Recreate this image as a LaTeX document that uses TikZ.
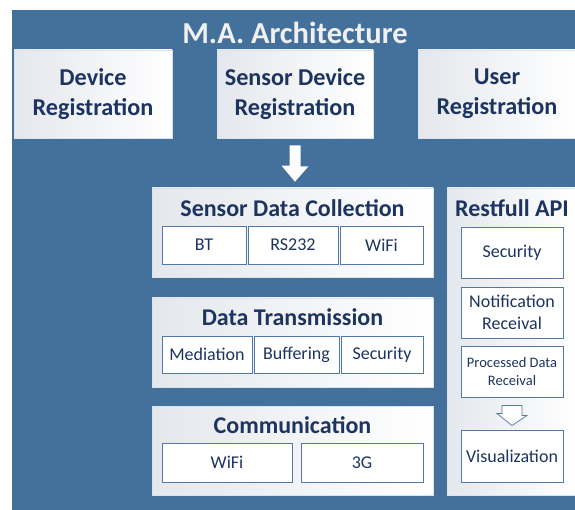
\documentclass[tikz,border=0pt]{standalone}
\usepackage{fontspec}
\setmainfont{Carlito}
\usetikzlibrary{positioning}
\definecolor{ArchBlue}{RGB}{67,113,156}
\definecolor{TextNavy}{RGB}{28,52,95}
\definecolor{ItemEdge}{RGB}{84,120,165}
\definecolor{BoxGrey}{RGB}{228,231,236}

\begin{document}
\begin{tikzpicture}[x=1pt,y=-1pt,
  every node/.style={align=center, text=TextNavy, inner sep=0pt},
  regbox/.style={draw=white!80!ArchBlue, line width=0.6pt, left color=BoxGrey, right color=white, font=\fontsize{24.2}{30}\selectfont\bfseries},
  groupbox/.style={draw=white!80!ArchBlue, line width=0.6pt, left color=BoxGrey, right color=white},
  grouptitle/.style={font=\fontsize{24}{28}\selectfont\bfseries},
  itembox/.style={draw=ItemEdge, line width=0.9pt, fill=white, font=\fontsize{18}{22}\selectfont}]
  \useasboundingbox (0,0) rectangle (575,510);
  \fill[ArchBlue] (12,10) rectangle (575,510);
  \node[font=\fontsize{30.5}{32}\selectfont\bfseries, text=white!94!black] (title) at (295,33) {M.A. Architecture};

  % registration row
  \node[regbox, minimum width=158pt, minimum height=88pt] (devreg) at (93,94) {Device\\Registration};
  \node[regbox, minimum width=156pt, minimum height=88pt] (sensreg) at (295,94) {Sensor Device\\Registration};
  \node[regbox, minimum width=158pt, minimum height=88pt] (userreg) at (497,94) {User\\Registration};

  % left column
  \node[groupbox, minimum width=281pt, minimum height=89pt] (collect) at (292.5,232.5) {};
  \node[grouptitle] (collecttitle) at (292.5,208) {Sensor Data Collection};
  \node[itembox, minimum width=84pt, minimum height=38pt] (bt) at (204,245) {BT};
  \node[itembox, minimum width=90pt, minimum height=38pt] (rs) at (293,245) {RS232};
  \node[itembox, minimum width=83pt, minimum height=38pt] (wifiA) at (381.5,245) {WiFi};

  \node[groupbox, minimum width=281pt, minimum height=89pt] (trans) at (292.5,342.5) {};
  \node[grouptitle] (transtitle) at (292.5,317) {Data Transmission};
  \node[itembox, minimum width=90pt, minimum height=37pt] (mediation) at (207,354.5) {Mediation};
  \node[itembox, minimum width=85pt, minimum height=37pt] (buffering) at (296.5,354.5) {Buffering};
  \node[itembox, minimum width=82pt, minimum height=37pt] (securityA) at (382,354.5) {Security};

  \node[groupbox, minimum width=281pt, minimum height=89pt] (comm) at (292.5,450.5) {};
  \node[grouptitle] (commtitle) at (292.5,425) {Communication};
  \node[itembox, minimum width=130pt, minimum height=39pt] (wifiB) at (227,462.5) {WiFi};
  \node[itembox, minimum width=122pt, minimum height=39pt] (threeg) at (362,462.5) {3G};

  % right column
  \node[groupbox, minimum width=130pt, minimum height=307pt] (rest) at (512,341.5) {};
  \node[grouptitle] (resttitle) at (512,208) {Restfull API};
  \node[itembox, minimum width=102pt, minimum height=51pt] (securityB) at (512,252.5) {Security};
  \node[itembox, minimum width=102pt, minimum height=51pt] (notify) at (512,312.5) {Notification\\Receival};
  \node[itembox, minimum width=102pt, minimum height=51pt, font=\fontsize{14.5}{18}\selectfont] (processed) at (512,371.5) {Processed Data\\Receival};
  \node[itembox, minimum width=102pt, minimum height=52pt] (visual) at (512,456) {Visualization};

  % arrows
  \fill[white] ([xshift=-5.5pt,yshift=-7pt]sensreg.south) -- ++(11,0) -- ++(0,21) -- ++(8,0)
    -- ([yshift=6pt]collect.north -| sensreg.south) -- ++(-13.5,-16) -- ++(8,0) -- cycle;
  \draw[ItemEdge, line width=0.7pt, fill=white] ([xshift=-10pt,yshift=-8pt]processed.south) -- ++(20,0) -- ++(0,10)
    -- ++(5,0) -- ([yshift=4pt]visual.north) -- ++(-15,-12) -- ++(5,0) -- cycle;
\end{tikzpicture}
\end{document}
